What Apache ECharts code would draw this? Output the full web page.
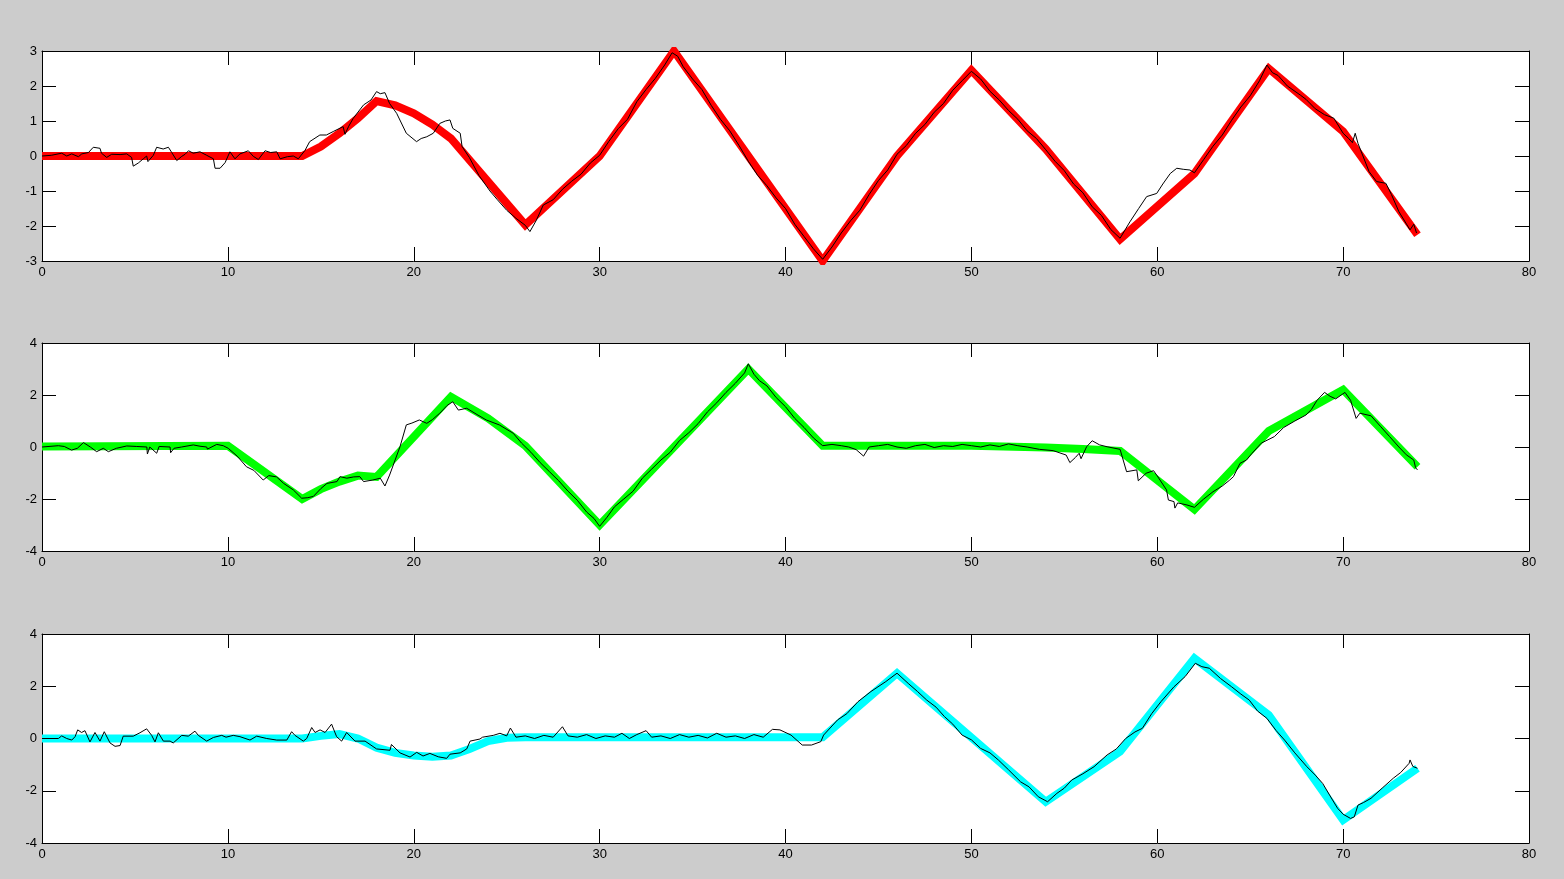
<!DOCTYPE html>
<html>
<head>
<meta charset="utf-8">
<script src="https://cdn.jsdelivr.net/npm/echarts@6/dist/echarts.min.js"></script>
<style>
html,body{margin:0;padding:0;background:#cccccc;}
#chart{width:1564px;height:879px;}
</style>
</head>
<body>
<div id="chart"></div>
<script>
// ---- data ----
const xTicks = [0, 10, 20, 30, 40, 50, 60, 70, 80];

const topThick = [[0,0],[14,0],[15,0.27],[16,0.65],[17,1.08],[18,1.57],[19,1.45],[20,1.22],[21,0.9],[22,0.5],[26,-1.97],[30,0],[34,3],[42,-3],[46,0.0],[50,2.45],[54,0.2],[58,-2.38],[62,-0.5],[66,2.5],[70,0.7],[74,-2.25]];

const topTrace = [[0,0],[0.5,0.02],[1.06,0.08],[1.33,0],[1.6,0.06],[1.96,-0.02],[2.14,0.06],[2.5,0.1],[2.76,0.25],[3.12,0.22],[3.2,0.08],[3.48,-0.04],[3.75,0.05],[4.2,0.04],[4.56,0.06],[4.82,-0.04],[4.91,-0.29],[5.18,-0.2],[5.45,-0.08],[5.63,0.0],[5.7,-0.16],[5.99,0.02],[6.17,0.25],[6.52,0.2],[6.8,0.25],[6.98,0.1],[7.25,-0.13],[7.52,-0.01],[7.7,0.05],[7.88,0.15],[8.14,0.08],[8.5,0.12],[8.86,0.02],[9.22,-0.08],[9.31,-0.35],[9.58,-0.35],[9.85,-0.19],[10.11,0.12],[10.38,-0.08],[10.65,0.06],[11.1,0.15],[11.37,-0.01],[11.64,-0.1],[12.0,0.15],[12.3,0.1],[12.63,0.12],[12.81,-0.08],[13.2,-0.02],[13.52,0.0],[13.79,-0.08],[14.15,0.16],[14.4,0.41],[14.95,0.6],[15.3,0.6],[15.67,0.7],[16.2,0.84],[16.3,0.62],[16.5,0.85],[16.75,1.08],[17.3,1.46],[17.7,1.6],[18.0,1.84],[18.2,1.78],[18.45,1.81],[18.7,1.5],[19.08,1.22],[19.6,0.65],[20.15,0.41],[20.4,0.5],[20.7,0.55],[21.05,0.65],[21.4,0.93],[21.7,1.0],[21.95,1.03],[22.1,0.79],[22.5,0.65],[22.6,0.27],[23.0,-0.05],[23.5,-0.55],[24.1,-1.0],[24.5,-1.25],[25.0,-1.55],[25.5,-1.78],[26.0,-1.98],[26.25,-2.16],[26.6,-1.83],[26.97,-1.4],[27.5,-1.25],[28.0,-0.95],[28.5,-0.72],[29.0,-0.52],[29.5,-0.2],[30.0,0.02],[30.5,0.42],[31.0,0.78],[31.5,1.05],[32.0,1.55],[32.5,1.9],[33.0,2.22],[33.5,2.6],[33.9,2.95],[34.2,2.85],[34.5,2.55],[35.0,2.2],[35.5,1.9],[36.0,1.45],[36.5,1.05],[37.0,0.72],[37.5,0.3],[38.0,-0.15],[38.5,-0.55],[39.0,-0.85],[39.5,-1.2],[40.0,-1.5],[40.5,-1.95],[41.0,-2.3],[41.5,-2.65],[42.0,-2.95],[42.5,-2.6],[43.0,-2.2],[43.5,-1.85],[44.0,-1.55],[44.5,-1.1],[45.0,-0.7],[45.5,-0.4],[46.0,0.05],[46.5,0.3],[47.0,0.65],[47.5,0.9],[48.0,1.25],[48.5,1.5],[49.0,1.88],[49.5,2.15],[50.0,2.42],[50.5,2.2],[51.0,1.85],[51.5,1.6],[52.0,1.3],[52.5,1.05],[53.0,0.72],[53.5,0.5],[54.0,0.18],[54.5,-0.15],[55.0,-0.42],[55.5,-0.8],[56.0,-1.05],[56.5,-1.45],[57.0,-1.7],[57.5,-2.1],[58.0,-2.35],[58.53,-1.88],[59.0,-1.5],[59.43,-1.16],[59.97,-1.07],[60.3,-0.8],[60.7,-0.5],[61.05,-0.35],[61.4,-0.38],[61.76,-0.4],[62.0,-0.48],[62.5,-0.1],[63.0,0.28],[63.5,0.6],[64.0,1.02],[64.5,1.4],[65.0,1.72],[65.5,2.15],[65.9,2.6],[66.2,2.38],[66.5,2.3],[67.0,2.0],[67.7,1.74],[68.0,1.62],[68.5,1.35],[69.0,1.18],[69.5,1.08],[70.0,0.65],[70.3,0.5],[70.5,0.38],[70.65,0.65],[70.8,0.36],[71.4,-0.45],[71.8,-0.73],[72.3,-0.78],[72.6,-1.1],[73.0,-1.59],[73.6,-2.11],[73.8,-1.95],[73.95,-2.2]];

const midThick = [[0,0.02],[10,0.05],[14,-2.0],[15,-1.62],[16,-1.33],[17,-1.1],[18,-1.15],[22,1.93],[24,1.1],[26,0.05],[30,-3.0],[38,3.0],[42,0.05],[50,0.05],[54,-0.02],[56,-0.08],[58,-0.15],[62,-2.4],[66,0.62],[70,2.2],[74,-0.76]];

const midTrace = [[0,0],[0.88,0.05],[1.2,0.02],[1.59,-0.12],[1.9,-0.05],[2.23,0.17],[2.6,0.0],[2.94,-0.18],[3.3,-0.05],[3.57,-0.18],[4.0,-0.05],[4.56,0.04],[5.1,0.02],[5.64,0.0],[5.67,-0.27],[5.8,0.0],[6.17,-0.24],[6.3,0.02],[6.89,0.0],[6.92,-0.22],[7.1,-0.05],[7.51,0.0],[8.14,0.08],[8.5,0.03],[8.86,0.0],[8.9,-0.08],[9.4,0.1],[9.75,0.05],[10.02,-0.05],[10.5,-0.35],[11.0,-0.76],[11.4,-0.9],[11.9,-1.27],[12.2,-1.1],[12.62,-1.15],[13.0,-1.4],[13.52,-1.65],[13.97,-1.97],[14.3,-1.95],[14.6,-1.9],[15.0,-1.6],[15.33,-1.4],[15.87,-1.33],[16.03,-1.14],[16.4,-1.2],[16.77,-1.15],[17.1,-1.14],[17.3,-1.33],[17.8,-1.27],[18.2,-1.2],[18.45,-1.5],[18.7,-1.08],[19.26,0.01],[19.6,0.85],[19.9,0.92],[20.3,1.04],[20.7,0.91],[21.0,1.05],[21.4,1.3],[21.8,1.6],[22.1,1.74],[22.4,1.42],[22.85,1.49],[23.4,1.25],[23.9,1.04],[24.6,0.85],[25.35,0.53],[25.8,0.15],[26.3,-0.2],[26.8,-0.6],[27.3,-0.95],[27.8,-1.3],[28.3,-1.7],[28.8,-2.05],[29.3,-2.5],[29.7,-2.75],[30.0,-3.05],[30.4,-2.7],[30.8,-2.3],[31.3,-2.0],[31.8,-1.7],[32.3,-1.2],[32.8,-0.85],[33.3,-0.5],[33.8,-0.2],[34.3,0.25],[34.8,0.55],[35.3,0.9],[35.8,1.35],[36.3,1.7],[36.8,2.1],[37.3,2.45],[37.8,2.85],[38.0,3.2],[38.3,2.8],[38.6,2.55],[39.0,2.35],[39.5,1.9],[40.0,1.55],[40.5,1.1],[41.0,0.75],[41.5,0.35],[42.0,0.05],[42.5,0.1],[43.0,0.05],[43.4,0.0],[43.8,-0.1],[44.2,-0.35],[44.5,0.0],[45.0,0.05],[45.5,0.1],[46.0,0.0],[46.5,-0.05],[47.0,0.05],[47.5,0.1],[48.0,-0.02],[48.5,0.05],[49.0,0.02],[49.5,0.1],[50.0,0.05],[50.5,0.0],[51.0,0.08],[51.5,0.02],[52.0,0.12],[52.5,0.05],[53.0,0.0],[53.66,-0.09],[54.4,-0.14],[55.1,-0.31],[55.3,-0.6],[55.6,-0.4],[55.8,-0.24],[55.9,-0.45],[56.2,0.01],[56.5,0.24],[56.9,0.08],[57.3,0.01],[58.0,-0.09],[58.35,-0.95],[58.9,-0.88],[58.98,-1.3],[59.4,-1.01],[59.8,-0.91],[59.97,-1.08],[60.5,-1.65],[60.6,-2.04],[60.9,-2.1],[60.95,-2.35],[61.1,-2.15],[61.6,-2.23],[62.0,-2.32],[62.5,-2.0],[63.0,-1.72],[63.5,-1.5],[63.9,-1.27],[64.1,-1.14],[64.45,-0.63],[64.8,-0.5],[65.1,-0.24],[65.6,0.15],[66.3,0.4],[66.8,0.75],[67.4,1.0],[68.0,1.23],[68.3,1.45],[68.6,1.8],[69.0,2.1],[69.3,1.95],[69.6,1.85],[70.1,2.1],[70.4,1.8],[70.7,1.1],[70.9,1.3],[71.5,1.2],[72.0,0.8],[72.5,0.4],[73.0,0.0],[73.4,-0.3],[73.8,-0.5],[73.9,-0.8],[74.0,-0.88]];

const botThick = [[0,0],[14,0],[15,0.1],[16,0.17],[17,0.0],[18,-0.35],[19,-0.55],[20,-0.65],[21,-0.7],[22,-0.65],[23,-0.4],[24,-0.1],[25,0.03],[26,0.05],[42,0.05],[46,2.5],[54,-2.42],[58,-0.5],[62,3.07],[66,0.9],[70,-3.12],[74,-1.14]];

const botTrace = [[0,0],[0.88,0],[1.06,0.1],[1.33,0],[1.6,-0.06],[1.78,0.07],[1.92,0.33],[2.13,0.23],[2.31,0.3],[2.58,-0.13],[2.85,0.23],[3.12,-0.1],[3.35,0.26],[3.66,-0.17],[3.93,-0.3],[4.2,-0.27],[4.37,0.09],[4.91,0.09],[5.27,0.22],[5.63,0.37],[5.9,0.12],[6.08,-0.13],[6.26,0.22],[6.53,-0.1],[6.89,-0.1],[7.06,-0.17],[7.52,0.12],[7.87,0.09],[8.23,0.28],[8.41,0.12],[8.86,-0.1],[9.22,0.04],[9.67,0.12],[9.9,0.05],[10.29,0.12],[10.65,0.07],[11.19,-0.06],[11.55,0.09],[12.09,0],[12.63,-0.06],[13.17,-0.06],[13.43,0.26],[13.61,0.12],[14.06,-0.1],[14.24,0],[14.51,0.42],[14.69,0.23],[14.96,0.33],[15.23,0.23],[15.58,0.55],[15.85,0.07],[16.12,-0.1],[16.39,0.23],[16.84,-0.1],[17.38,-0.1],[18.0,-0.4],[18.72,-0.45],[18.8,-0.23],[19.26,-0.55],[19.8,-0.71],[20.16,-0.53],[20.5,-0.67],[20.87,-0.57],[21.32,-0.7],[21.77,-0.76],[21.95,-0.6],[22.5,-0.55],[22.85,-0.4],[23.03,-0.1],[23.56,-0.02],[23.7,0.05],[24.28,0.12],[24.64,0.2],[25.0,0.1],[25.2,0.4],[25.5,0.05],[26.0,0.1],[26.5,0.0],[27.0,0.12],[27.5,0.05],[28.0,0.45],[28.3,0.1],[28.8,0.05],[29.3,0.15],[29.8,0.0],[30.3,0.1],[30.8,0.05],[31.2,0.2],[31.6,0.0],[32.0,0.15],[32.5,0.3],[32.8,0.05],[33.3,0.1],[33.8,0.0],[34.3,0.15],[34.8,0.05],[35.3,0.12],[35.8,0.02],[36.3,0.2],[36.8,0.05],[37.3,0.1],[37.8,0.0],[38.3,0.15],[38.8,0.05],[39.3,0.35],[39.7,0.33],[40.3,0.13],[40.9,-0.25],[41.4,-0.25],[41.9,-0.12],[42.05,0.13],[42.8,0.71],[43.3,0.95],[43.9,1.41],[44.6,1.8],[45.4,2.18],[46.0,2.5],[46.6,2.11],[47.1,1.8],[47.6,1.47],[48.1,1.2],[48.55,0.84],[49.0,0.55],[49.5,0.13],[50.0,-0.05],[50.5,-0.38],[51.0,-0.55],[51.45,-0.82],[52.0,-1.2],[52.65,-1.66],[53.1,-1.85],[53.6,-2.23],[54.1,-2.42],[54.6,-2.1],[55.0,-1.9],[55.4,-1.59],[56.0,-1.35],[56.6,-1.08],[57.3,-0.63],[57.8,-0.4],[58.3,0.0],[58.8,0.25],[59.2,0.39],[59.7,0.95],[60.2,1.41],[60.9,1.98],[61.5,2.37],[62.05,2.88],[62.4,2.75],[62.8,2.69],[63.4,2.3],[64.0,1.98],[64.5,1.7],[64.95,1.47],[65.4,1.05],[65.9,0.77],[66.4,0.3],[66.85,-0.06],[67.4,-0.55],[68.05,-1.08],[68.5,-1.4],[68.9,-1.72],[69.3,-2.2],[69.7,-2.67],[70.0,-2.9],[70.4,-3.06],[70.6,-3.0],[70.8,-2.55],[71.1,-2.45],[71.5,-2.29],[72.1,-1.9],[72.7,-1.52],[73.1,-1.3],[73.55,-0.95],[73.6,-0.82],[73.75,-1.07],[74.0,-1.14]];

const topYTicks = [-3, -2, -1, 0, 1, 2, 3];
const midYTicks = [-4, -2, 0, 2, 4];
const botYTicks = [-4, -2, 0, 2, 4];

// ---- chart ----
const panels = [
  {thick: topThick, trace: topTrace, color: '#ff0000', yTicks: topYTicks, top: 51, height: 210},
  {thick: midThick, trace: midTrace, color: '#00ff00', yTicks: midYTicks, top: 343, height: 208},
  {thick: botThick, trace: botTrace, color: '#00ffff', yTicks: botYTicks, top: 634, height: 209}
];

const font = {fontFamily: 'Liberation Sans', fontSize: 13, color: '#000'};
const grids = [], xAxes = [], yAxes = [], series = [];

panels.forEach((p, i) => {
  grids.push({left: 42, right: 35, top: p.top, height: p.height, show: true,
    backgroundColor: '#ffffff', borderWidth: 0});
  const yMin = p.yTicks[0], yMax = p.yTicks[p.yTicks.length - 1];
  const yStep = p.yTicks[1] - p.yTicks[0];
  const xMin = xTicks[0], xMax = xTicks[xTicks.length - 1], xStep = xTicks[1] - xTicks[0];
  const common = {
    axisLine: {show: true, onZero: false, lineStyle: {color: '#000', width: 1}},
    axisTick: {show: true, inside: true, length: 14, lineStyle: {color: '#000', width: 1}},
    splitLine: {show: false}
  };
  xAxes.push(Object.assign({type: 'value', gridIndex: i, position: 'bottom', min: xMin, max: xMax, interval: xStep,
    axisLabel: Object.assign({show: true, margin: 5}, font)}, common));
  xAxes.push(Object.assign({type: 'value', gridIndex: i, position: 'top', min: xMin, max: xMax, interval: xStep,
    axisLabel: {show: false}}, common));
  yAxes.push(Object.assign({type: 'value', gridIndex: i, position: 'left', min: yMin, max: yMax, interval: yStep,
    axisLabel: Object.assign({show: true, margin: 5}, font)}, common));
  yAxes.push(Object.assign({type: 'value', gridIndex: i, position: 'right', min: yMin, max: yMax, interval: yStep,
    axisLabel: {show: false}}, common));
  series.push({type: 'line', xAxisIndex: 2 * i, yAxisIndex: 2 * i, data: p.thick, showSymbol: false, symbol: 'none',
    lineStyle: {color: p.color, width: 8, join: 'miter', cap: 'butt'}, silent: true, z: 2});
  series.push({type: 'line', xAxisIndex: 2 * i, yAxisIndex: 2 * i, data: p.trace, showSymbol: false, symbol: 'none',
    lineStyle: {color: '#000', width: 1}, silent: true, z: 3});
});

const chart = echarts.init(document.getElementById('chart'), null, {renderer: 'canvas'});
chart.setOption({
  backgroundColor: '#cccccc',
  animation: false,
  grid: grids,
  xAxis: xAxes,
  yAxis: yAxes,
  series: series
});
</script>
</body>
</html>
